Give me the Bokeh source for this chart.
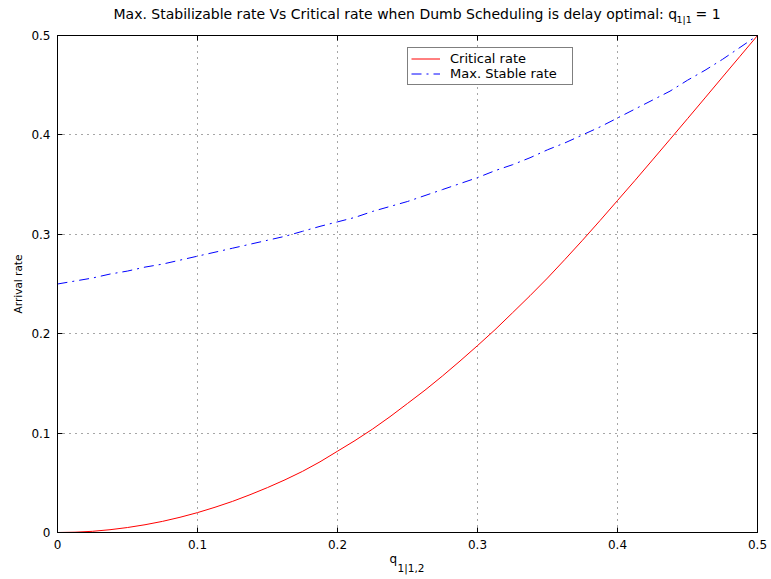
from bokeh.plotting import figure
from bokeh.models import Range1d, LinearAxis, FixedTicker, Label, Legend, LegendItem
from bokeh.embed import file_html
from bokeh.resources import INLINE

# ---- data ----
q_values = [0.0, 0.0125, 0.025, 0.0375, 0.05, 0.0625, 0.075, 0.0875, 0.1, 0.1125,
            0.125, 0.1375, 0.15, 0.1625, 0.175, 0.1875, 0.2, 0.2125, 0.225, 0.2375,
            0.25, 0.2625, 0.275, 0.2875, 0.3, 0.3125, 0.325, 0.3375, 0.35, 0.3625,
            0.375, 0.3875, 0.4, 0.4125, 0.425, 0.4375, 0.45, 0.4625, 0.475, 0.4875, 0.5]
critical_rate = [0.0, 0.0003, 0.0012, 0.0028, 0.005, 0.0078, 0.0112, 0.0153, 0.020, 0.0254,
                 0.0313, 0.038, 0.0452, 0.053, 0.0615, 0.0711, 0.0818, 0.0925, 0.104, 0.1165,
                 0.1298, 0.1432, 0.1575, 0.1725, 0.188, 0.204, 0.221, 0.2382, 0.256, 0.2748,
                 0.294, 0.3138, 0.334, 0.3542, 0.3748, 0.3955, 0.4163, 0.4372, 0.4582, 0.4791, 0.5]
max_stable_rate = [0.250, 0.253, 0.256, 0.260, 0.263, 0.267, 0.270, 0.274, 0.278, 0.282,
                   0.286, 0.290, 0.294, 0.298, 0.303, 0.308, 0.3125, 0.317, 0.323, 0.328,
                   0.333, 0.339, 0.345, 0.351, 0.357, 0.364, 0.370, 0.377, 0.385, 0.392,
                   0.400, 0.408, 0.417, 0.426, 0.435, 0.444, 0.455, 0.465, 0.476, 0.488, 0.5]

tick_values = [0.0, 0.1, 0.2, 0.3, 0.4, 0.5]
tick_labels = ["0", "0.1", "0.2", "0.3", "0.4", "0.5"]

# title "... optimal: q_{1|1} = 1"; the gap after q holds the subscript
title_main = "Max. Stabilizable rate Vs Critical rate when Dumb Scheduling is delay optimal: q\u2003 = 1"
title_sub = "1|1"
xlabel_main = "q"
xlabel_sub = "1|1,2"
ylabel = "Arrival rate"
legend_labels = ["Critical rate", "Max. Stable rate"]

FONT = "DejaVu Sans"

W, H = 771, 579
BL, BR, BT, BB = 57, 14, 35, 47
FW = W - BL - BR
FH = H - BT - BB

p = figure(width=W, height=H, output_backend="svg", toolbar_location=None,
           x_range=Range1d(0, 0.5), y_range=Range1d(0, 0.5),
           min_border_left=BL, min_border_right=BR, min_border_top=BT, min_border_bottom=BB,
           background_fill_color="white", border_fill_color="white")
p.outline_line_color = "black"
p.outline_line_width = 1

overrides = {v: s for v, s in zip(tick_values, tick_labels)}
blank = {v: "" for v in tick_values}

for ax in (p.xaxis[0], p.yaxis[0]):
    ax.ticker = FixedTicker(ticks=tick_values)
    ax.major_label_overrides = overrides
    ax.major_tick_in = 5
    ax.major_tick_out = 0
    ax.minor_tick_in = 0
    ax.minor_tick_out = 0
    ax.axis_line_color = "black"
    ax.major_tick_line_color = "black"
    ax.major_label_text_font = FONT
    ax.major_label_text_font_size = "12px"
    ax.major_label_text_color = "black"
    ax.major_label_standoff = 7

p.yaxis[0].axis_label = ylabel
p.yaxis[0].axis_label_text_font = FONT
p.yaxis[0].axis_label_text_font_size = "10.5px"
p.yaxis[0].axis_label_text_font_style = "normal"
p.yaxis[0].axis_label_text_color = "black"
p.yaxis[0].axis_label_standoff = 4

for loc in ("right", "above"):
    ax = LinearAxis(ticker=FixedTicker(ticks=tick_values), major_label_overrides=blank,
                    major_tick_in=5, major_tick_out=0, minor_tick_in=0, minor_tick_out=0,
                    axis_line_color="black", major_tick_line_color="black",
                    major_label_standoff=0, major_label_text_font_size="1px")
    p.add_layout(ax, loc)

for g in (p.xgrid[0], p.ygrid[0]):
    g.ticker = FixedTicker(ticks=tick_values)
    g.grid_line_color = "black"
    g.grid_line_alpha = 0.7
    g.grid_line_dash = "1 5"
    g.grid_line_width = 1

r_crit = p.line(q_values, critical_rate, line_color="#ff0000", line_width=1)
r_max = p.line(q_values, max_stable_rate, line_color="#0000ff", line_width=1, line_dash="10 5 2 5")

legend = Legend(items=[LegendItem(label=legend_labels[0], renderers=[r_crit]),
                       LegendItem(label=legend_labels[1], renderers=[r_max])],
                location=(350, FH - 50))
legend.label_text_font = FONT
legend.label_text_font_size = "13px"
legend.label_text_color = "black"
legend.glyph_width = 29
legend.glyph_height = 13
legend.label_height = 13
legend.label_width = 119
legend.label_standoff = 10
legend.padding = 3
legend.spacing = 0
legend.margin = 0
legend.border_line_color = "black"
legend.border_line_width = 1
legend.background_fill_color = "white"
legend.background_fill_alpha = 1
p.add_layout(legend, "center")

# title (side panel above)
p.add_layout(Label(x=56, y=22, x_units="screen", y_units="screen", text=title_main,
                   text_align="left", text_baseline="alphabetic", text_font=FONT,
                   text_font_size="14px", text_color="black"), "above")
p.add_layout(Label(x=619, y=0, x_units="screen", y_units="screen", text=title_sub,
                   text_align="left", text_baseline="alphabetic", text_font=FONT,
                   text_font_size="9.5px", text_color="black"), "above")

# x-axis label (side panel below)
p.add_layout(Label(x=332, y=7, x_units="screen", y_units="screen", text=xlabel_main,
                   text_align="left", text_baseline="alphabetic", text_font=FONT,
                   text_font_size="12px", text_color="black"), "below")
p.add_layout(Label(x=340, y=10, x_units="screen", y_units="screen", text=xlabel_sub,
                   text_align="left", text_baseline="alphabetic", text_font=FONT,
                   text_font_size="10.5px", text_color="black"), "below")

open("out.html", "w").write(file_html(p, INLINE))
